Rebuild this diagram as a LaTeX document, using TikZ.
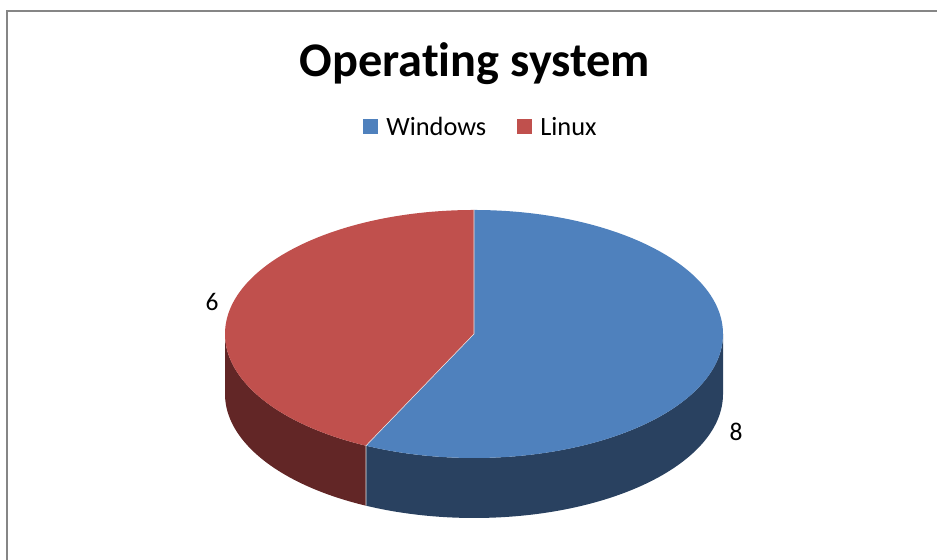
\documentclass[tikz,border=0pt]{standalone}
\usepackage{fontspec}
\setmainfont{Carlito}[Ligatures=NoCommon]
\usepackage{tikz}
\usepackage{xcolor}

\definecolor{wintop}{RGB}{79,129,189}
\definecolor{winside}{RGB}{41,65,96}
\definecolor{lintop}{RGB}{192,80,77}
\definecolor{linside}{RGB}{98,38,38}
\definecolor{framegray}{RGB}{134,134,134}

\begin{document}
\begin{tikzpicture}[%
      x=0.02cm, y=0.02cm,
      pie/.style={x radius=249, y radius=124},
      seam/.style={color=white!85!gray, line width=0.3pt},
      keybox/.style={minimum size=15*0.02cm, inner sep=0pt},
      keytext/.style={font=\fontsize{15}{17}\selectfont, anchor=base west, inner sep=0pt},
      valtext/.style={font=\fontsize{14.5}{16}\selectfont},
      ]
      \useasboundingbox (0,0) rectangle (937,560);
      \draw [color=framegray, line width=1.1pt] (7,-2) -- (7,549) -- (940,549);

      % side walls
      \fill [color=linside] (225,226) arc[start angle=180, end angle=244.29, pie]
            -- ++(0,-60) arc[start angle=244.29, end angle=180, pie] -- cycle;
      \fill [color=winside] (366.0,114.3) arc[start angle=244.29, end angle=360, pie]
            -- ++(0,-60) arc[start angle=360, end angle=244.29, pie] -- cycle;

      % top faces
      \fill [color=wintop] (474,226) -- (474,350) arc[start angle=90, end angle=-115.71, pie] -- cycle;
      \fill [color=lintop] (474,226) -- (474,350) arc[start angle=90, end angle=244.29, pie] -- cycle;
      \draw [seam] (474,350) -- (474,226) -- (366.0,114.3) -- ++(0,-60);

      \node [font=\fontsize{27.5}{31}\selectfont\bfseries, anchor=base] (title) at (475,483) {Operating system};

      \node [keybox, fill=wintop] (winkey) at (370.5,433.5) {};
      \node [keytext] (winlabel) at (386,424) {Windows};
      \node [keybox, fill=lintop] (linkey) at (524,433.5) {};
      \node [keytext] (linlabel) at (540,424) {Linux};

      \node [valtext] (linval) at (212,257.5) {6};
      \node [valtext] (winval) at (736,128.5) {8};
      \end{tikzpicture}
\end{document}
